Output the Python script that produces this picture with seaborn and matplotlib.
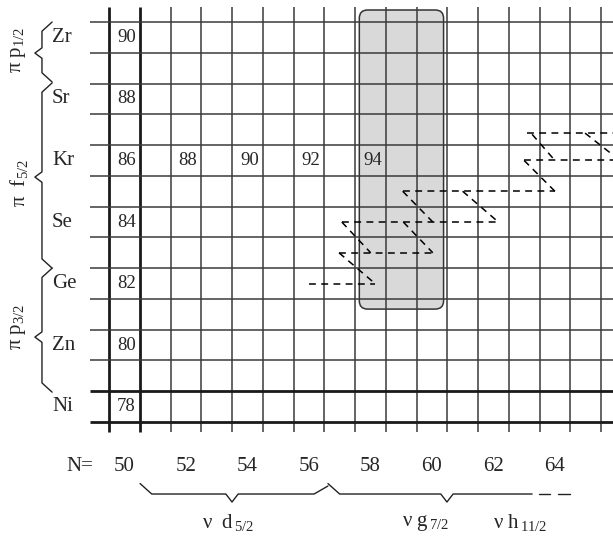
import numpy as np
import pandas as pd
import matplotlib
matplotlib.use('Agg')
import matplotlib.pyplot as plt
import seaborn as sns
from matplotlib.patches import FancyBboxPatch

# ---------------- data ----------------
elements = ['Ni', 'Zn', 'Ge', 'Se', 'Kr', 'Sr', 'Zr']
element_Z = [28, 30, 32, 34, 36, 38, 40]
mass_at_N50 = [78, 80, 82, 84, 86, 88, 90]
kr_N = [52, 54, 56, 58]
kr_A = [88, 90, 92, 94]
n_ticks = [50, 52, 54, 56, 58, 60, 62, 64]
proton_labels = ['π p$_{1/2}$', 'π  f$_{5/2}$', 'π p$_{3/2}$']
neutron_labels = ['ν  d$_{\\,5/2}$', 'ν g$_{\\,7/2}$', 'ν h$_{\\,11/2}$']

# dashed level-scheme segments (N, Z) start -> end
seg_N0 = [56.00, 56.98, 57.07, 59.05, 63.00, 63.10, 56.98, 57.07, 59.07, 59.05, 61.00, 63.00, 63.26, 64.98]
seg_Z0 = [32.00, 33.00, 34.00, 35.00, 36.00, 36.89, 33.00, 34.00, 34.00, 35.00, 35.00, 36.00, 36.85, 36.89]
seg_N1 = [58.15, 60.03, 62.16, 64.00, 66.00, 66.00, 58.15, 58.01, 60.03, 60.03, 62.16, 64.00, 64.00, 65.95]
seg_Z1 = [32.00, 33.00, 34.00, 35.00, 36.00, 36.89, 32.00, 33.00, 33.00, 34.00, 34.00, 35.00, 36.00, 36.13]

# ---------------- style ----------------
sns.set_style('white')
plt.rcParams['font.family'] = ['Liberation Serif', 'DejaVu Serif']
plt.rcParams['mathtext.fontset'] = 'custom'
plt.rcParams['mathtext.rm'] = 'Liberation Serif'
plt.rcParams['mathtext.it'] = 'Liberation Serif'

fig = plt.figure(figsize=(6.13, 5.37), dpi=100)
ax = fig.add_axes([0, 0, 1, 1])
ax.set_xlim(45.955, 65.89)
ax.set_ylim(23.763, 41.215)
ax.axis('off')

# grid
vx = np.arange(49.5, 66.0, 1.0)
hz = np.arange(27.5, 41.0, 1.0)
for x in vx:
    thick = x in (49.5, 50.5)
    ax.vlines(x, 27.17, 40.99, color='#1a1a1a' if thick else '#3a3a3a',
              lw=2.0 if thick else 1.1, zorder=2)
for z in hz:
    thick = z in (27.5, 28.5)
    ax.hlines(z, 48.88, 66.0, color='#1a1a1a' if thick else '#3a3a3a',
              lw=2.0 if thick else 1.1, zorder=2)

# shaded box
box = FancyBboxPatch((57.64, 31.17), 2.74, 9.72,
                     boxstyle='round,pad=0,rounding_size=0.27',
                     fc='#d9d9d9', ec='#333333', lw=1.1, zorder=1)
ax.add_patch(box)

# dashed segments via seaborn
rows = []
for i, (a, b, c, d) in enumerate(zip(seg_N0, seg_Z0, seg_N1, seg_Z1)):
    rows.append({'seg': i, 'N': a, 'Z': b, 'o': 0})
    rows.append({'seg': i, 'N': c, 'Z': d, 'o': 1})
df = pd.DataFrame(rows)
sns.lineplot(data=df, x='N', y='Z', units='seg', estimator=None, sort=False,
             color='black', lw=1.1, linestyle=(0, (4.5, 3.5)), ax=ax, zorder=3,
             legend=False)
ax.set_xlim(45.955, 65.89)
ax.set_ylim(23.763, 41.215)
ax.axis('off')

# element labels and masses
for el, z, a in zip(elements, element_Z, mass_at_N50):
    ax.text(47.65, z, el, ha='left', va='center', fontsize=15, zorder=4)
    ax.text(50 - 0.5 + 0.26, z, str(a), ha='left', va='center', fontsize=13.5, zorder=4)
for n, a in zip(kr_N, kr_A):
    ax.text(n - 0.5 + 0.26, 36, str(a), ha='left', va='center', fontsize=13.5, zorder=4)

# bottom axis labels
ax.text(48.56, 26.04, 'N=', ha='center', va='center', fontsize=15)
for n in n_ticks:
    ax.text(n, 26.04, str(n), ha='center', va='center', fontsize=15)

# braces
def vbrace(top, bot, tip):
    end, spine, tx = 47.65, 47.32, 47.09
    xs = [end, spine, spine, tx, spine, spine, end]
    ys = [top, top - 0.3, tip + 0.17, tip, tip - 0.17, bot + 0.3, bot]
    ax.plot(xs, ys, color='#222222', lw=1.0)

vbrace(40.50, 38.55, 39.49)
vbrace(38.52, 32.50, 35.46)
vbrace(32.50, 28.47, 30.26)

for lab, zc in zip(proton_labels, [39.58, 35.27, 30.59]):
    ax.text(46.57, zc, lab, rotation=90, ha='center', va='center', fontsize=15)

def hbrace(x0, x1, tip, close=True):
    y, yend, ytip = 25.16, 25.5, 24.9
    xs = [x0, x0 + 0.38, tip - 0.2, tip, tip + 0.2, x1 - 0.45]
    ys = [yend, y, y, ytip, y, y]
    if close:
        xs.append(x1)
        ys.append(25.42)
    else:
        xs[-1] = x1
    ax.plot(xs, ys, color='#222222', lw=1.0)

hbrace(50.51, 56.62, 53.5)
hbrace(56.62, 63.26, 60.49, close=False)
ax.plot([63.49, 63.85], [25.16, 25.16], color='#222222', lw=1.0)
ax.plot([64.10, 64.49], [25.16, 25.16], color='#222222', lw=1.0)

for lab, xc in zip(neutron_labels, [53.37, 59.78, 62.87]):
    ax.text(xc, 24.22, lab, ha='center', va='center', fontsize=15)

fig.savefig('out.png', dpi=100)
